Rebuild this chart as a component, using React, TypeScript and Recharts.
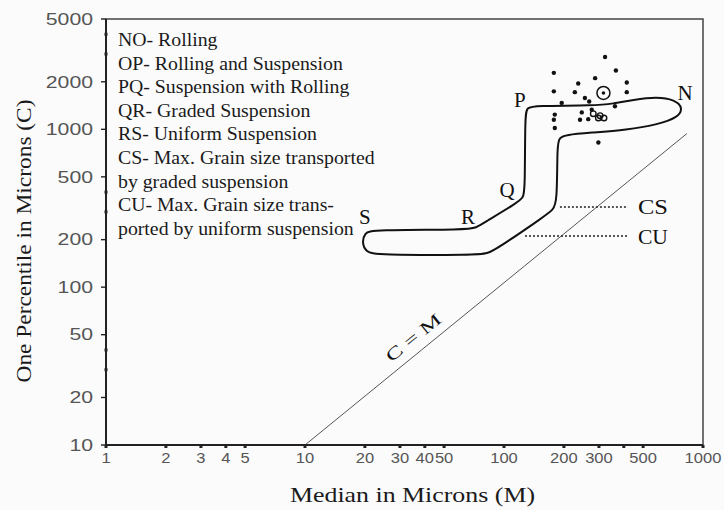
import React from 'react';
import {
  ScatterChart,
  Scatter,
  XAxis,
  YAxis,
  ReferenceLine,
  ReferenceArea,
  Label,
  Customized,
} from 'recharts';

const xTicks = [1, 2, 3, 4, 5, 10, 20, 30, 40, 50, 100, 200, 300, 400, 500, 1000];
const xTickLabels = [1, 2, 3, 4, 5, 10, 20, 30, 40, 50, 100, 200, 300, 500, 1000];
const yTicks = [10, 20, 30, 40, 50, 100, 200, 300, 400, 500, 1000, 2000, 3000, 4000, 5000];
const yTickLabels = [10, 20, 50, 100, 200, 500, 1000, 2000, 5000];

// outline S-R-Q-P-N and back, traced clockwise (M, C in microns)
const envelope = [
  { m: 21.7, c: 231 },
  { m: 65.9, c: 231 },
  { m: 72.3, c: 238 },
  { m: 79.4, c: 256 },
  { m: 116, c: 342 },
  { m: 125, c: 368 },
  { m: 127.5, c: 414 },
  { m: 127.5, c: 1238 },
  { m: 130.5, c: 1371 },
  { m: 141.5, c: 1412 },
  { m: 287, c: 1412 },
  { m: 353, c: 1453 },
  { m: 445, c: 1540 },
  { m: 587, c: 1609 },
  { m: 723, c: 1540 },
  { m: 794, c: 1371 },
  { m: 749, c: 1185 },
  { m: 587, c: 1070 },
  { m: 415, c: 994 },
  { m: 271, c: 952 },
  { m: 205, c: 924 },
  { m: 189, c: 885 },
  { m: 185, c: 787 },
  { m: 185, c: 342 },
  { m: 176, c: 309 },
  { m: 161, c: 283 },
  { m: 92.2, c: 175 },
  { m: 82.1, c: 163 },
  { m: 73.2, c: 160 },
  { m: 22.7, c: 160 },
  { m: 20.3, c: 167 },
  { m: 19.3, c: 191 },
  { m: 20, c: 221 },
];

const samples = [
  { m: 322, c: 2870 }, { m: 365, c: 2360 }, { m: 178, c: 2280 }, { m: 287, c: 2110 },
  { m: 236, c: 1950 }, { m: 414, c: 1980 }, { m: 178, c: 1740 }, { m: 227, c: 1720 },
  { m: 414, c: 1720 }, { m: 255, c: 1580 }, { m: 268, c: 1500 }, { m: 195, c: 1470 },
  { m: 361, c: 1400 }, { m: 180, c: 1240 }, { m: 178, c: 1150 }, { m: 180, c: 1020 },
  { m: 246, c: 1280 }, { m: 276, c: 1330 }, { m: 241, c: 1150 }, { m: 265, c: 1160 },
  { m: 298, c: 826 },
];
const rings = [
  { m: 298, c: 1180 }, { m: 318, c: 1180 }, { m: 281, c: 1256 }, { m: 304, c: 1220 },
];
const meanPoint = [{ m: 316, c: 1700 }];

const pointLabels = [
  { m: 20, c: 279, text: 'S' },
  { m: 65.9, c: 279, text: 'R' },
  { m: 103.5, c: 414, text: 'Q' },
  { m: 120, c: 1541, text: 'P' },
  { m: 812, c: 1706, text: 'N' },
];
const limitLabels = [
  { m: 471, c: 322, text: 'CS' },
  { m: 471, c: 208, text: 'CU' },
];
const csLine = [{ m: 191, c: 322 }, { m: 420, c: 322 }];
const cuLine = [{ m: 127.5, c: 211 }, { m: 420, c: 211 }];
const equalityLine = [{ m: 10, c: 10 }, { m: 830, c: 940 }];
const equalityLabel = [{ m: 35, c: 48, text: 'C = M' }];

const legendLines = [
  'NO- Rolling',
  'OP- Rolling and Suspension',
  'PQ- Suspension with Rolling',
  'QR- Graded Suspension',
  'RS- Uniform Suspension',
  'CS- Max. Grain size transported',
  'by graded suspension',
  'CU- Max. Grain size trans-',
  'ported by uniform suspension',
];

const SERIF = '"Liberation Serif", "Times New Roman", serif';
const SANS = '"Liberation Sans", Arial, sans-serif';

function XTick(props: any) {
  const { x, y, payload } = props;
  const v = payload.value;
  const axisY = y - 7;
  const s = String(v);
  return (
    <g>
      <line x1={x} x2={x} y1={axisY} y2={axisY + 3} stroke="#222" strokeWidth={3} />
      {xTickLabels.includes(v) && (
        <text
          x={x}
          y={y}
          dy="0.71em"
          textAnchor="middle"
          fontFamily={SANS}
          fontSize={15}
          fill="#555"
          textLength={s.length * 9.2}
          lengthAdjust="spacingAndGlyphs"
        >
          {s}
        </text>
      )}
    </g>
  );
}

function YTick(props: any) {
  const { x, y, payload } = props;
  const v = payload.value;
  const axisX = x + 13;
  const major = yTickLabels.includes(v);
  const s = String(v);
  return (
    <g>
      {major ? (
        <line x1={axisX - 5} x2={axisX} y1={y} y2={y} stroke="#222" strokeWidth={1.4} />
      ) : (
        <line x1={axisX} x2={axisX} y1={y - 1.5} y2={y + 1.5} stroke="#222" strokeWidth={3} />
      )}
      {major && (
        <text
          x={x}
          y={y}
          dy="0.36em"
          textAnchor="end"
          fontFamily={SANS}
          fontSize={16}
          fill="#555"
          textLength={s.length * 11.8}
          lengthAdjust="spacingAndGlyphs"
        >
          {s}
        </text>
      )}
    </g>
  );
}

const Hidden = () => <g />;
const SampleDot = (p: any) => <circle cx={p.cx} cy={p.cy} r={2.2} fill="#111" />;
const RingDot = (p: any) => (
  <circle cx={p.cx} cy={p.cy} r={2.8} fill="none" stroke="#111" strokeWidth={1.4} />
);
const MeanDot = (p: any) => (
  <g>
    <circle cx={p.cx} cy={p.cy} r={6.5} fill="none" stroke="#111" strokeWidth={1.5} />
    <circle cx={p.cx} cy={p.cy} r={1.8} fill="#111" />
  </g>
);
const PointText = (p: any) => (
  <text x={p.cx} y={p.cy} dy="0.35em" textAnchor="middle" fontFamily={SERIF} fontSize={21} fill="#111">
    {p.payload.text}
  </text>
);
const SideText = (p: any) => (
  <text x={p.cx} y={p.cy} dy="0.35em" textAnchor="start" fontFamily={SERIF} fontSize={21} fill="#111"
    textLength={p.payload.text.length * 15} lengthAdjust="spacingAndGlyphs">
    {p.payload.text}
  </text>
);
const SlopeText = (p: any) => (
  <text
    x={p.cx}
    y={p.cy}
    dy="0.35em"
    textAnchor="middle"
    fontFamily={SERIF}
    fontSize={17}
    fill="#111"
    transform={`rotate(-39 ${p.cx} ${p.cy})`}
    textLength={66}
    lengthAdjust="spacingAndGlyphs"
  >
    {p.payload.text}
  </text>
);

function LegendBlock() {
  return (
    <g transform="translate(118,0) scale(1.1,1)">
      {legendLines.map((t, i) => (
        <text key={t} x={0} y={46 + i * 23.6} fontFamily={SERIF} fontSize={18} fill="#1a1a1a">
          {t}
        </text>
      ))}
    </g>
  );
}

const XTitle = (props: any) => {
  const vb = props.viewBox || { x: 106, y: 445, width: 597, height: 30 };
  return (
    <text x={vb.x + vb.width / 2 + 8} y={vb.y + 57} textAnchor="middle" fontFamily={SERIF}
      fontSize={22} fill="#1a1a1a" textLength={245} lengthAdjust="spacingAndGlyphs">
      Median in Microns (M)
    </text>
  );
};

const YTitle = (props: any) => {
  const vb = props.viewBox || { x: 0, y: 19, width: 106, height: 426 };
  const cx = 31;
  const cy = vb.y + vb.height / 2 + 9;
  return (
    <text x={cx} y={cy} textAnchor="middle" fontFamily={SERIF} fontSize={21} fill="#1a1a1a"
      transform={`rotate(-90 ${cx} ${cy})`} textLength={283} lengthAdjust="spacingAndGlyphs">
      One Percentile in Microns (C)
    </text>
  );
};

export default function App() {
  return (
    <div style={{ position: 'absolute', left: 0, top: 0, width: 724, height: 510, background: '#fbfbfb' }}>
      <ScatterChart width={724} height={510} margin={{ top: 19, right: 21, bottom: 35, left: 0 }}>
        <XAxis
          type="number"
          dataKey="m"
          scale="log"
          domain={[1, 1000]}
          allowDataOverflow
          ticks={xTicks}
          interval={0}
          tick={<XTick />}
          tickLine={false}
          tickSize={4}
          tickMargin={3}
          height={30}
          axisLine={{ stroke: '#222', strokeWidth: 2 }}
        >
          <Label content={XTitle} />
        </XAxis>
        <YAxis
          type="number"
          dataKey="c"
          scale="log"
          domain={[10, 5000]}
          allowDataOverflow
          ticks={yTicks}
          interval={0}
          tick={<YTick />}
          tickLine={false}
          tickSize={5}
          tickMargin={8}
          width={106}
          axisLine={{ stroke: '#222', strokeWidth: 2 }}
        >
          <Label content={YTitle} />
        </YAxis>
        <ReferenceArea x1={1} x2={1000} y1={10} y2={5000} fill="none" stroke="#444" strokeWidth={1.5} />
        <ReferenceLine
          segment={equalityLine.map((d) => ({ x: d.m, y: d.c }))}
          stroke="#555"
          strokeWidth={1}
        />
        <ReferenceLine
          segment={csLine.map((d) => ({ x: d.m, y: d.c }))}
          stroke="#222"
          strokeWidth={1.5}
          strokeDasharray="2 2"
        />
        <ReferenceLine
          segment={cuLine.map((d) => ({ x: d.m, y: d.c }))}
          stroke="#222"
          strokeWidth={1.5}
          strokeDasharray="2 2"
        />
        <Scatter
          data={envelope}
          line={{ stroke: '#111', strokeWidth: 2 }}
          lineType="joint"
          lineJointType="basisClosed"
          shape={Hidden}
          isAnimationActive={false}
        />
        <Scatter data={samples} shape={SampleDot} isAnimationActive={false} />
        <Scatter data={rings} shape={RingDot} isAnimationActive={false} />
        <Scatter data={meanPoint} shape={MeanDot} isAnimationActive={false} />
        <Scatter data={pointLabels} shape={PointText} isAnimationActive={false} />
        <Scatter data={limitLabels} shape={SideText} isAnimationActive={false} />
        <Scatter data={equalityLabel} shape={SlopeText} isAnimationActive={false} />
        <Customized component={LegendBlock} />
      </ScatterChart>
    </div>
  );
}
